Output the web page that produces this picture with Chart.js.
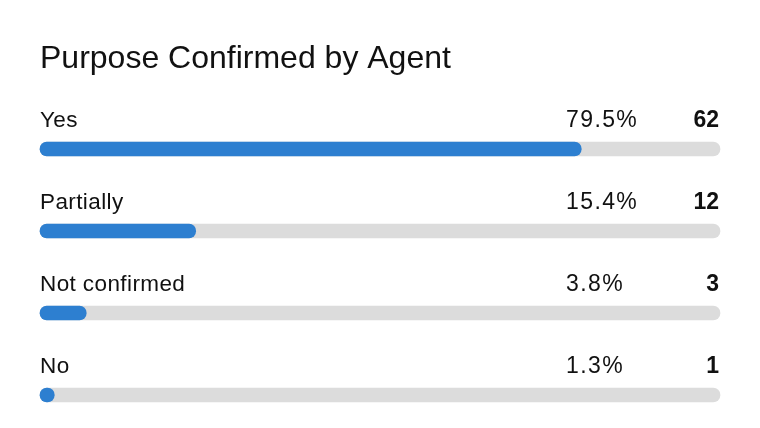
<!DOCTYPE html>
<html>
<head>
<meta charset="utf-8">
<script src="https://cdn.jsdelivr.net/npm/chart.js@4"></script>
<style>
  html, body { margin: 0; padding: 0; background: #fff; }
  #wrap { width: 760px; height: 428px; }
</style>
</head>
<body>
<div id="wrap"><canvas id="purposeChart" width="760" height="428"></canvas></div>
<script>
// Dados do gráfico
const title = 'Purpose Confirmed by Agent';
const categories = ['Yes', 'Partially', 'Not confirmed', 'No'];
const percents = [79.5, 15.4, 3.8, 1.3];
const counts = [62, 12, 3, 1];
// comprimento da barra azul (em % da trilha)
const fillPct = [79.6, 22.9, 6.8, 2.1];
const trackMax = 100;

const FONT = "'Liberation Sans', Arial, Helvetica, sans-serif";

// Plugin para textos (título, rótulos, percentuais, contagens)
const rowText = {
  id: 'rowText',
  afterDraw(chart) {
    const { ctx, chartArea, scales } = chart;
    ctx.save();
    ctx.fillStyle = '#111';
    ctx.textBaseline = 'alphabetic';
    ctx.textAlign = 'left';
    ctx.font = '32px ' + FONT;
    ctx.fillText(title, chartArea.left, 68);

    categories.forEach((cat, i) => {
      const y = scales.y.getPixelForValue(i) - 22;
      ctx.font = '22.5px ' + FONT;
      ctx.textAlign = 'left';
      ctx.letterSpacing = '0.4px';
      ctx.fillText(cat, chartArea.left, y);
      ctx.font = '23px ' + FONT;
      ctx.letterSpacing = '1.4px';
      ctx.fillText(percents[i].toFixed(1) + '%', 566, y);
      ctx.font = 'bold 23px ' + FONT;
      ctx.textAlign = 'right';
      ctx.letterSpacing = '0px';
      ctx.fillText(String(counts[i]), chartArea.right - 1, y);
    });
    ctx.restore();
  }
};

const ctx = document.getElementById('purposeChart').getContext('2d');
const purposeChart = new Chart(ctx, {
  type: 'bar',
  data: {
    labels: categories,
    datasets: [
      {
        label: 'fill',
        data: fillPct,
        backgroundColor: '#2d7fd0',
        order: 1
      },
      {
        label: 'track',
        data: categories.map(() => trackMax),
        backgroundColor: '#dcdcdc',
        order: 2
      }
    ]
  },
  options: {
    responsive: false,
    animation: false,
    indexAxis: 'y',
    layout: { padding: { left: 40, right: 40, top: 149, bottom: 33 } },
    datasets: {
      bar: {
        grouped: false,
        barThickness: 14,
        borderRadius: 7,
        borderSkipped: false,
        clip: false
      }
    },
    scales: {
      x: { min: 0, max: trackMax, display: false },
      y: { type: 'category', offset: false, display: false }
    },
    plugins: {
      legend: { display: false },
      tooltip: { enabled: false }
    }
  },
  plugins: [rowText]
});
</script>
</body>
</html>
